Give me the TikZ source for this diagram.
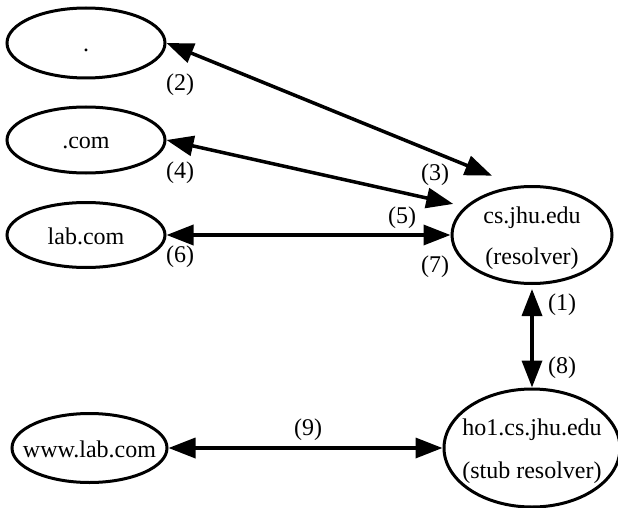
\documentclass[tikz,border=0pt]{standalone}
\usepackage{fontspec}
\setmainfont{Liberation Serif}
\usetikzlibrary{arrows.meta,shapes.geometric}
\newcommand\inell[1]{\raisebox{-9pt}[0pt][0pt]{\makebox[0pt]{#1}}}
\tikzset{
  txt/.style={font=\fontsize{24}{29}\selectfont},
  ell/.style={draw, ellipse, line width=3pt, inner sep=0pt, txt},
  lbl/.style={inner sep=0pt, txt},
  conn/.style={{Triangle[length=27pt,width=20pt]}-{Triangle[length=27pt,width=20pt]}, line width=3.5pt}
}
\begin{document}
\begin{tikzpicture}[x=1pt,y=-1pt]
\useasboundingbox (0,0) rectangle (618,508);
% nodes
\node[ell, minimum width=158pt, minimum height=70pt] (dot) at (86,43) {\inell{.}};
\node[ell, minimum width=158pt, minimum height=66pt] (com) at (86,140) {\inell{.com}};
\node[ell, minimum width=158pt, minimum height=65pt] (lab) at (86,235) {\inell{lab.com}};
\node[ell, minimum width=155pt, minimum height=69pt] (www) at (89.5,448) {\inell{www.lab.com}};
\node[ell, minimum width=160pt, minimum height=97pt] (cs) at (532,235)
  {\inell{\begin{tabular}{@{}c@{}}cs.jhu.edu\\[12pt](resolver)\end{tabular}}};
\node[ell, minimum width=176pt, minimum height=118pt] (ho1) at (532,448)
  {\inell{\begin{tabular}{@{}c@{}}ho1.cs.jhu.edu\\[14pt](stub resolver)\end{tabular}}};
% labels
\node[lbl] (l2) at (180,85) {(2)};
\node[lbl] (l4) at (180,173) {(4)};
\node[lbl] (l6) at (180,257) {(6)};
\node[lbl] (l3) at (435,175) {(3)};
\node[lbl] (l5) at (402,218) {(5)};
\node[lbl] (l7) at (435,267) {(7)};
\node[lbl] (l1) at (562,305) {(1)};
\node[lbl] (l8) at (562,368) {(8)};
\node[lbl] (l9) at (308,430) {(9)};
% connectors
\draw[conn, shorten >=27pt] (dot.east) -- (cs.107);
\draw[conn, shorten >=12pt] (com.east) -- (cs.157.4);
\draw[conn] (lab.east) -- (cs.west);
\draw[conn, shorten <=4pt] (cs.south) -- (ho1.north);
\draw[conn] (www.east) -- (ho1.west);
\end{tikzpicture}
\end{document}
